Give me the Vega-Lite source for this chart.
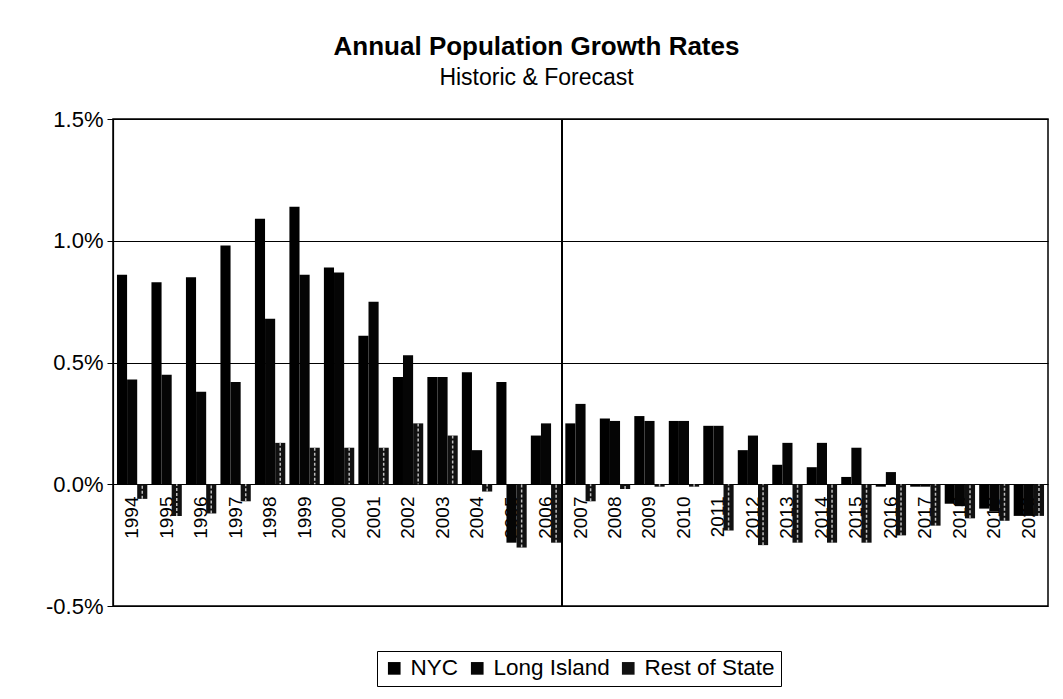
{
  "$schema": "https://vega.github.io/schema/vega-lite/v6.json",
  "autosize": "none",
  "width": 935,
  "height": 487,
  "padding": {"left": 113, "top": 119, "right": 15, "bottom": 93},
  "background": "white",
  "title": {
    "text": "Annual Population Growth Rates",
    "subtitle": "Historic & Forecast",
    "anchor": "middle",
    "dx": -44,
    "offset": 18,
    "font": "Liberation Sans",
    "fontSize": 26,
    "fontWeight": "bold",
    "color": "#000",
    "subtitleFont": "Liberation Sans",
    "subtitleFontSize": 23,
    "subtitleColor": "#000",
    "subtitlePadding": 7
  },
  "data": {
    "values": [
      {"year": "1994", "NYC": 0.0086, "Long Island": 0.0043, "Rest of State": -0.0006},
      {"year": "1995", "NYC": 0.0083, "Long Island": 0.0045, "Rest of State": -0.0013},
      {"year": "1996", "NYC": 0.0085, "Long Island": 0.0038, "Rest of State": -0.0012},
      {"year": "1997", "NYC": 0.0098, "Long Island": 0.0042, "Rest of State": -0.0007},
      {"year": "1998", "NYC": 0.0109, "Long Island": 0.0068, "Rest of State": 0.0017},
      {"year": "1999", "NYC": 0.0114, "Long Island": 0.0086, "Rest of State": 0.0015},
      {"year": "2000", "NYC": 0.0089, "Long Island": 0.0087, "Rest of State": 0.0015},
      {"year": "2001", "NYC": 0.0061, "Long Island": 0.0075, "Rest of State": 0.0015},
      {"year": "2002", "NYC": 0.0044, "Long Island": 0.0053, "Rest of State": 0.0025},
      {"year": "2003", "NYC": 0.0044, "Long Island": 0.0044, "Rest of State": 0.0020},
      {"year": "2004", "NYC": 0.0046, "Long Island": 0.0014, "Rest of State": -0.0003},
      {"year": "2005", "NYC": 0.0042, "Long Island": -0.0024, "Rest of State": -0.0026},
      {"year": "2006", "NYC": 0.0020, "Long Island": 0.0025, "Rest of State": -0.0024},
      {"year": "2007", "NYC": 0.0025, "Long Island": 0.0033, "Rest of State": -0.0007},
      {"year": "2008", "NYC": 0.0027, "Long Island": 0.0026, "Rest of State": -0.0002},
      {"year": "2009", "NYC": 0.0028, "Long Island": 0.0026, "Rest of State": -0.0001},
      {"year": "2010", "NYC": 0.0026, "Long Island": 0.0026, "Rest of State": -0.0001},
      {"year": "2011", "NYC": 0.0024, "Long Island": 0.0024, "Rest of State": -0.0019},
      {"year": "2012", "NYC": 0.0014, "Long Island": 0.0020, "Rest of State": -0.0025},
      {"year": "2013", "NYC": 0.0008, "Long Island": 0.0017, "Rest of State": -0.0024},
      {"year": "2014", "NYC": 0.0007, "Long Island": 0.0017, "Rest of State": -0.0024},
      {"year": "2015", "NYC": 0.0003, "Long Island": 0.0015, "Rest of State": -0.0024},
      {"year": "2016", "NYC": -0.0001, "Long Island": 0.0005, "Rest of State": -0.0021},
      {"year": "2017", "NYC": -0.0001, "Long Island": -0.0001, "Rest of State": -0.0017},
      {"year": "2018", "NYC": -0.0008, "Long Island": -0.0009, "Rest of State": -0.0014},
      {"year": "2019", "NYC": -0.0010, "Long Island": -0.0011, "Rest of State": -0.0015},
      {"year": "2020", "NYC": -0.0013, "Long Island": -0.0013, "Rest of State": -0.0013}
    ]
  },
  "transform": [
    {"fold": ["NYC", "Long Island", "Rest of State"], "as": ["region", "rate"]}
  ],
  "layer": [
    {
      "mark": {"type": "bar", "cornerRadius": 0},
      "encoding": {
        "x": {
          "field": "year",
          "type": "nominal",
          "sort": null,
          "scale": {"paddingInner": 0.12, "paddingOuter": 0.115},
          "axis": {
            "title": null,
            "orient": "bottom",
            "offset": -122,
            "domain": false,
            "ticks": false,
            "labelAngle": 270,
            "labelAlign": "right",
            "labelBaseline": "middle",
            "labelPadding": 12,
            "labelFont": "Liberation Sans",
            "labelFontSize": 19,
            "labelColor": "#000",
            "labelOverlap": false
          }
        },
        "xOffset": {
          "field": "region",
          "type": "nominal",
          "sort": ["NYC", "Long Island", "Rest of State"],
          "scale": {"paddingInner": 0, "paddingOuter": 0}
        },
        "y": {
          "field": "rate",
          "type": "quantitative",
          "scale": {"domain": [-0.005, 0.015], "nice": false},
          "axis": {
            "title": null,
            "values": [-0.005, 0, 0.005, 0.01, 0.015],
            "labelExpr": "replace(format(datum.value, '.1%'), '−', '-')",
            "grid": true,
            "gridColor": "#000",
            "gridOpacity": 1,
            "gridWidth": 1.2,
            "domainColor": "#000",
            "domainWidth": 1.2,
            "tickColor": "#000",
            "tickSize": 6,
            "labelPadding": 4,
            "labelFont": "Liberation Sans",
            "labelFontSize": 22,
            "labelColor": "#000"
          }
        },
        "color": {
          "field": "region",
          "type": "nominal",
          "sort": ["NYC", "Long Island", "Rest of State"],
          "scale": {"domain": ["NYC", "Long Island", "Rest of State"], "range": ["#000000", "#050505", "#111111"]},
          "legend": {
            "title": null,
            "orient": "none",
            "legendX": 264,
            "legendY": 532,
            "direction": "horizontal",
            "symbolType": "square",
            "symbolSize": 160,
            "symbolStrokeWidth": 0,
            "labelFont": "Liberation Sans",
            "labelFontSize": 22.5,
            "labelColor": "#000",
            "labelOffset": 5,
            "columnPadding": 7,
            "padding": 6,
            "strokeColor": "#000",
            "fillColor": "#fff"
          }
        }
      }
    },
    {
      "transform": [{"filter": "datum.region === 'Rest of State'"}],
      "mark": {"type": "rule", "stroke": "#bdbdbd", "strokeWidth": 1.5, "strokeDash": [3, 2]},
      "encoding": {
        "x": {"field": "year", "type": "nominal", "sort": null},
        "xOffset": {"field": "region", "type": "nominal", "sort": ["NYC", "Long Island", "Rest of State"]},
        "y": {"field": "rate", "type": "quantitative"},
        "y2": {"datum": 0}
      }
    },
    {
      "mark": {"type": "rule", "color": "#000", "strokeWidth": 1.5},
      "encoding": {
        "x": {"datum": "2006", "bandPosition": 1.03}
      }
    }
  ],
  "config": {
    "view": {"stroke": "#000", "strokeWidth": 1.5}
  }
}
